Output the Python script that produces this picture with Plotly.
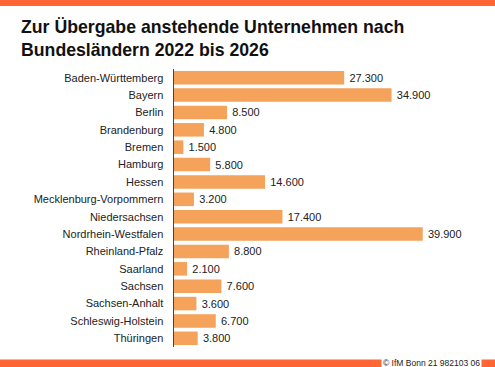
import plotly.graph_objects as go

laender = ["Baden-Württemberg", "Bayern", "Berlin", "Brandenburg", "Bremen", "Hamburg",
           "Hessen", "Mecklenburg-Vorpommern", "Niedersachsen", "Nordrhein-Westfalen",
           "Rheinland-Pfalz", "Saarland", "Sachsen", "Sachsen-Anhalt", "Schleswig-Holstein",
           "Thüringen"]
unternehmen = [27300, 34900, 8500, 4800, 1500, 5800, 14600, 3200, 17400, 39900,
               8800, 2100, 7600, 3600, 6700, 3800]

W, H = 495, 367
ML, MR, MT, MB = 174, 28, 69, 20
PW, PH = W - ML - MR, H - MT - MB

def px_x(x):
    return (x - ML) / PW

def px_y(y):
    return (H - MB - y) / PH

BAR = "#F5A25A"
BAND = "#FF6633"

fig = go.Figure(go.Bar(
    x=unternehmen, y=laender, orientation="h",
    marker=dict(color=BAR, line=dict(width=0)),
    texttemplate="\u2009%{x:,.0f}", textposition="outside",
    textfont=dict(size=11, color="#222", family="Liberation Sans, Arial, sans-serif"),
    cliponaxis=False, hoverinfo="skip",
))

fig.update_layout(
    width=W, height=H,
    margin=dict(l=ML, r=MR, t=MT, b=MB),
    paper_bgcolor="white", plot_bgcolor="white",
    separators=",.",
    bargap=0.22,
    showlegend=False,
    font=dict(family="Liberation Sans, Arial, sans-serif", size=11, color="#222"),
    xaxis=dict(range=[0, 47000], visible=False, fixedrange=True),
    yaxis=dict(autorange="reversed", showline=True, linecolor="#444", linewidth=1.5,
               showgrid=False, zeroline=False, ticks="", ticklabelstandoff=7,
               fixedrange=True, tickfont=dict(size=11, color="#222")),
    shapes=[
        dict(type="rect", xref="paper", yref="paper", x0=px_x(-5), x1=px_x(W + 5),
             y0=px_y(0 - 5), y1=px_y(6), fillcolor=BAND, line=dict(width=0), layer="above"),
        dict(type="rect", xref="paper", yref="paper", x0=px_x(-5), x1=px_x(W + 5),
             y0=px_y(359.5), y1=px_y(H + 5), fillcolor=BAND, line=dict(width=0), layer="above"),
    ],
    annotations=[
        dict(text="<b>Zur Übergabe anstehende Unternehmen nach<br>Bundesländern 2022 bis 2026</b>",
             xref="paper", yref="paper", x=px_x(19), y=px_y(15), xanchor="left", yanchor="top",
             align="left", showarrow=False,
             font=dict(size=17.7, color="#111", family="Liberation Sans, Arial, sans-serif")),
        dict(text="© IfM Bonn 21 982103 06", xref="paper", yref="paper",
             x=px_x(482), y=px_y(363), xanchor="right", yanchor="middle",
             showarrow=False, bgcolor="white", borderpad=1,
             font=dict(size=8.5, color="#222", family="Liberation Sans, Arial, sans-serif")),
    ],
)

fig.write_html("out.html", config={"displayModeBar": False, "staticPlot": True},
               post_script="document.body.style.margin='0';document.body.style.overflow='hidden';")
